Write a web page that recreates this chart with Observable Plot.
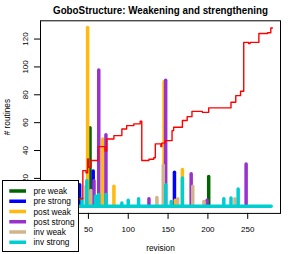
<!DOCTYPE html>
<html>
<head>
<meta charset="utf-8">
<script src="https://cdn.jsdelivr.net/npm/d3@7"></script>
<script src="https://cdn.jsdelivr.net/npm/@observablehq/plot@0.6"></script>
<style>
  body { margin: 0; background: white; }
  #wrap { position: relative; width: 294px; height: 254px; font-family: "Liberation Sans", Arial, sans-serif; }
  #legend { position: absolute; left: 2px; top: 180px; width: 77px; height: 72px; box-sizing: border-box; border: 1px solid #000; background: #fff; }
</style>
</head>
<body>
<div id="wrap"></div>
<script>
// ---- data ----
const titleText = "GoboStructure: Weakening and strengthening";
const xLabel = "revision";
const yLabel = "# routines";
// the 0 ticks sit under the legend box in the reference, so only visible ticks are labelled
const xTicks = [50, 100, 150, 200, 250];
const yTicks = [20, 40, 60, 80, 100, 120];

const seriesNames = ["pre weak", "pre strong", "post weak", "post strong", "inv weak", "inv strong"];
const seriesColors = ["#006400", "#0000FF", "#FFB90F", "#9932CC", "#D2B48C", "#00CED1"];

const preWeakRev = [52, 201];
const preWeakVal = [56, 21];
const preStrongRev = [39, 56, 158];
const preStrongVal = [15, 25, 24];
const postWeakRev = [49, 68, 82, 145, 159, 168];
const postWeakVal = [128, 48, 14, 89, 4, 26];
const postStrongRev = [57, 63, 72, 126, 147, 179, 199, 248];
const postStrongVal = [18, 97.5, 51, 5, 90, 23, 4, 30];
const invWeakRev = [47, 53, 136, 144, 162, 181, 195, 234];
const invWeakVal = [14, 11, 6, 29, 5, 14, 3, 5];
const invStrongRev = [42, 48, 59, 63, 72, 92, 100, 113, 147, 154, 168, 220, 229, 238];
const invStrongVal = [5, 18, 7, 8, 8, 2, 4, 5, 15, 3, 20, 5, 5.5, 12];
const firstRev = 1, lastRev = 280;

const totalRev = [38, 43, 47, 49, 50, 53, 62, 71, 73, 82, 92, 98, 107, 115, 117, 126, 132, 134, 141, 142, 146, 155, 157, 168, 174, 180, 193, 201, 229, 235, 241, 245, 251, 253, 264, 275, 279, 281];
const totalVal = [5.4, 25.6, 24, 34, 28, 32.8, 42.8, 39.6, 48.3, 50.7, 55.5, 57.9, 59.1, 61.1, 32.8, 33.7, 34.8, 44.8, 42.8, 45.3, 47.1, 54.3, 56.7, 61.5, 64.3, 68.1, 67.4, 70.6, 74.6, 79.4, 82.5, 117.6, 116.8, 117.6, 124, 124.5, 127.9, 127.9];

// ---- build tables ----
const seriesRevs = [preWeakRev, preStrongRev, postWeakRev, postStrongRev, invWeakRev, invStrongRev];
const seriesVals = [preWeakVal, preStrongVal, postWeakVal, postStrongVal, invWeakVal, invStrongVal];
const bars = [];
seriesNames.forEach((name, i) => {
  seriesRevs[i].forEach((r, j) => bars.push({series: name, rev: r, value: seriesVals[i][j], order: i}));
});
const total = totalRev.map((r, i) => ({rev: r, value: totalVal[i]}));

const barMarks = seriesNames.map((name, i) =>
  Plot.ruleX(bars.filter(d => d.series === name), {
    x: "rev", y1: 0, y2: "value", stroke: seriesColors[i], strokeWidth: 3.5, strokeLinecap: "round"
  })
);

const chart = Plot.plot({
  width: 294,
  height: 254,
  marginLeft: 40,
  marginRight: 14,
  marginTop: 20.3,
  marginBottom: 41.1,
  style: {fontFamily: "Liberation Sans, Arial, sans-serif", fontSize: "8px", background: "white", color: "black", overflow: "visible"},
  x: {domain: [-10.16, 291.16]},
  y: {domain: [-5.12, 133.1]},
  marks: [
    ...barMarks.slice(0, 5),
    Plot.ruleY([0], {x1: firstRev, x2: lastRev, stroke: seriesColors[5], strokeWidth: 3.5, strokeLinecap: "round"}),
    barMarks[5],
    Plot.line(total, {x: "rev", y: "value", stroke: "#FF0000", strokeWidth: 1.4, curve: "step-after"}),
    Plot.frame({stroke: "#000", strokeWidth: 1}),
    Plot.axisX({ticks: xTicks, tickSize: 6, tickPadding: 7, fontSize: 8, label: null}),
    Plot.axisY({ticks: yTicks, tickSize: 6, tickFormat: () => "", label: null}),
    Plot.text(yTicks, {y: d => d, text: d => String(d), frameAnchor: "left", dx: -15, rotate: -90, textAnchor: "middle", lineAnchor: "middle", fontSize: 8}),
    Plot.text([yLabel], {frameAnchor: "left", dx: -33.5, rotate: -90, textAnchor: "middle", lineAnchor: "middle", fontSize: 8.3}),
    Plot.text([xLabel], {frameAnchor: "bottom", dy: 35.4, textAnchor: "middle", lineAnchor: "middle", fontSize: 8.3}),
    Plot.text([titleText], {frameAnchor: "top", dy: -10.3, textAnchor: "middle", lineAnchor: "middle", fontSize: 11, fontWeight: "bold"})
  ]
});

d3.select(chart).selectAll("text").filter(function() { return this.textContent === titleText; })
  .attr("textLength", 215).attr("lengthAdjust", "spacingAndGlyphs");

const wrap = document.getElementById("wrap");
wrap.appendChild(chart);

// ---- legend ----
const legend = document.createElement("div");
legend.id = "legend";
const ns = "http://www.w3.org/2000/svg";
const lsvg = document.createElementNS(ns, "svg");
lsvg.setAttribute("width", 75);
lsvg.setAttribute("height", 70);
lsvg.style.display = "block";
seriesNames.forEach((name, i) => {
  const cy = 10 + i * 10.25;
  const ln = document.createElementNS(ns, "line");
  ln.setAttribute("x1", 6.3); ln.setAttribute("x2", 23);
  ln.setAttribute("y1", cy); ln.setAttribute("y2", cy);
  ln.setAttribute("stroke", seriesColors[i]); ln.setAttribute("stroke-width", 3.5);
  lsvg.appendChild(ln);
  const tx = document.createElementNS(ns, "text");
  tx.setAttribute("x", 30.5); tx.setAttribute("y", cy + 3);
  tx.setAttribute("font-size", 8.3);
  tx.setAttribute("font-family", "Liberation Sans, Arial, sans-serif");
  tx.textContent = name;
  lsvg.appendChild(tx);
});
legend.appendChild(lsvg);
wrap.appendChild(legend);
</script>
</body>
</html>
